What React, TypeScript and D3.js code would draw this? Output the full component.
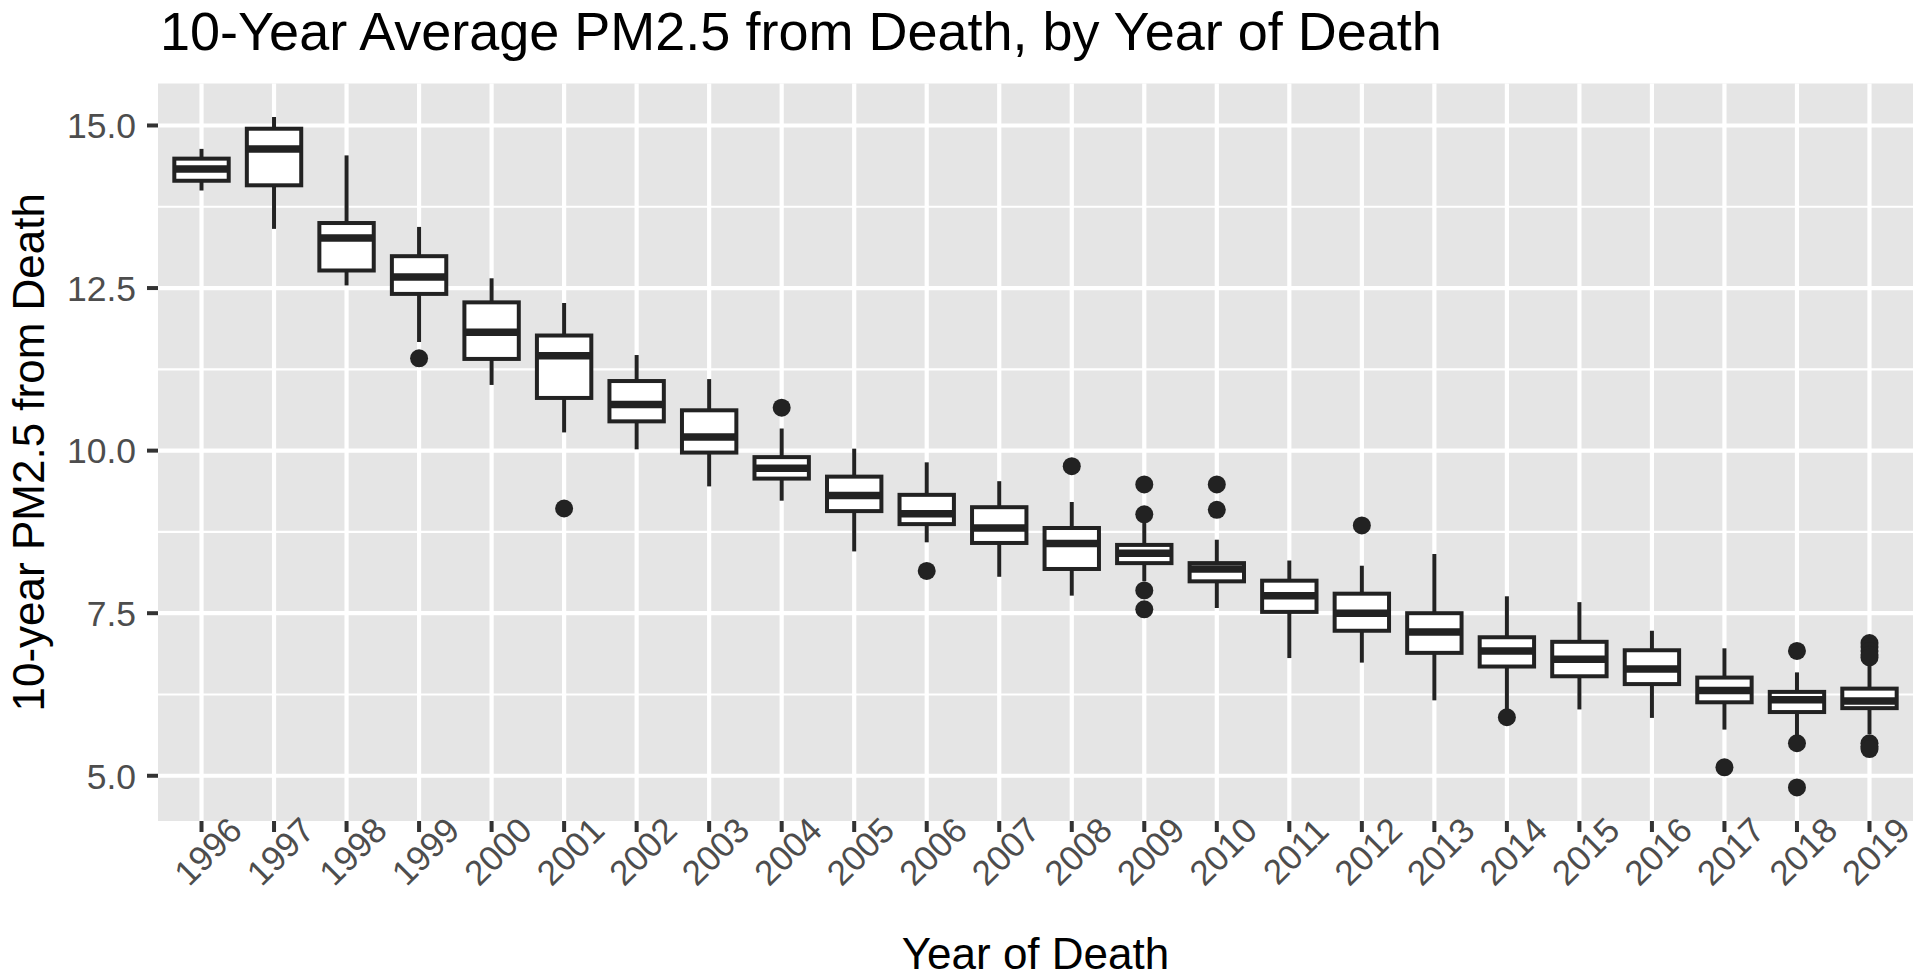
import { useMemo } from "react";
import * as d3 from "d3";

// Box statistics, one entry per year of death
const years = [1996, 1997, 1998, 1999, 2000, 2001, 2002, 2003, 2004, 2005, 2006, 2007,
    2008, 2009, 2010, 2011, 2012, 2013, 2014, 2015, 2016, 2017, 2018, 2019];
const whiskerLow = [14.0, 13.41, 12.54, 11.67, 11.01, 10.28, 10.02, 9.45, 9.23, 8.45, 8.59, 8.06,
    7.77, 7.99, 7.58, 6.81, 6.74, 6.16, 6.02, 6.02, 5.89, 5.71, 5.62, 5.64];
const q1 = [14.15, 14.08, 12.77, 12.41, 11.41, 10.81, 10.45, 9.97, 9.57, 9.07, 8.87, 8.58,
    8.18, 8.27, 7.99, 7.52, 7.23, 6.89, 6.68, 6.53, 6.41, 6.13, 5.98, 6.04];
const medians = [14.33, 14.64, 13.27, 12.67, 11.82, 11.46, 10.71, 10.21, 9.73, 9.31, 9.03, 8.81,
    8.57, 8.42, 8.18, 7.77, 7.5, 7.21, 6.92, 6.79, 6.64, 6.31, 6.17, 6.15];
const q3 = [14.49, 14.95, 13.5, 12.99, 12.28, 11.77, 11.07, 10.62, 9.9, 9.6, 9.32, 9.13,
    8.81, 8.55, 8.27, 8.0, 7.8, 7.5, 7.13, 7.06, 6.93, 6.51, 6.29, 6.34];
const whiskerHigh = [14.64, 15.13, 14.54, 13.44, 12.65, 12.27, 11.47, 11.1, 10.34, 10.03, 9.82, 9.53,
    9.21, 8.89, 8.63, 8.31, 8.23, 8.41, 7.76, 7.67, 7.23, 6.96, 6.59, 6.7];
const outliers: number[][] = [
    [], [], [], [11.42], [], [9.11], [], [], [10.66], [], [8.15], [],
    [9.76], [9.48, 9.02, 7.85, 7.56], [9.48, 9.09], [], [8.85], [], [5.9], [], [], [5.13],
    [6.92, 5.5, 4.82], [7.04, 6.98, 6.92, 6.86, 6.82, 5.5, 5.45, 5.41],
];

const yTicks = [5, 7.5, 10, 12.5, 15];
const yMinorTicks = [6.25, 8.75, 11.25, 13.75];

const title = "10-Year Average PM2.5 from Death, by Year of Death";
const xTitle = "Year of Death";
const yTitle = "10-year PM2.5 from Death";

const W = 1920;
const H = 980;
const panel = { left: 158, right: 1913, top: 83.5, bottom: 821 };
const font = "'Liberation Sans', Arial, Helvetica, sans-serif";
const ink = "#222222";

export default function App() {
    const x = useMemo(
        () =>
            d3.scalePoint<string>()
                .domain(years.map(String))
                .range([panel.left, panel.right])
                .padding(0.6),
        [],
    );

    const y = useMemo(() => {
        const all = [...whiskerLow, ...whiskerHigh, ...outliers.flat()];
        const [lo, hi] = d3.extent(all) as [number, number];
        const pad = (hi - lo) * 0.05;
        return d3.scaleLinear().domain([lo - pad, hi + pad]).range([panel.bottom, panel.top]);
    }, []);

    const boxW = x.step() * 0.75;
    const fmt = d3.format(".1f");

    return (
        <svg
            width={W}
            height={H}
            viewBox={`0 0 ${W} ${H}`}
            style={{ position: "absolute", left: 0, top: 0, display: "block", background: "#fff" }}
            fontFamily={font}
        >
            {/* panel + grid */}
            <rect
                x={panel.left}
                y={panel.top}
                width={panel.right - panel.left}
                height={panel.bottom - panel.top}
                fill="#E5E5E5"
            />
            {yMinorTicks.map((t) => (
                <line key={`mn-${t}`} x1={panel.left} x2={panel.right} y1={y(t)} y2={y(t)} stroke="#fff" strokeWidth={2.2} />
            ))}
            {yTicks.map((t) => (
                <line key={`mj-${t}`} x1={panel.left} x2={panel.right} y1={y(t)} y2={y(t)} stroke="#fff" strokeWidth={4.2} />
            ))}
            {years.map((yr) => (
                <line
                    key={`vg-${yr}`}
                    x1={x(String(yr))}
                    x2={x(String(yr))}
                    y1={panel.top}
                    y2={panel.bottom}
                    stroke="#fff"
                    strokeWidth={4.2}
                />
            ))}

            {/* boxplots */}
            {years.map((yr, i) => {
                const cx = x(String(yr)) ?? 0;
                return (
                    <g key={`b-${yr}`}>
                        {outliers[i].map((v, j) => (
                            <circle key={j} cx={cx} cy={y(v)} r={9} fill={ink} />
                        ))}
                        <line x1={cx} x2={cx} y1={y(q3[i])} y2={y(whiskerHigh[i])} stroke={ink} strokeWidth={4} />
                        <line x1={cx} x2={cx} y1={y(q1[i])} y2={y(whiskerLow[i])} stroke={ink} strokeWidth={4} />
                        <rect
                            x={cx - boxW / 2}
                            y={y(q3[i])}
                            width={boxW}
                            height={y(q1[i]) - y(q3[i])}
                            fill="#fff"
                            stroke={ink}
                            strokeWidth={4}
                        />
                        <line
                            x1={cx - boxW / 2}
                            x2={cx + boxW / 2}
                            y1={y(medians[i])}
                            y2={y(medians[i])}
                            stroke={ink}
                            strokeWidth={7.5}
                        />
                    </g>
                );
            })}

            {/* y axis */}
            {yTicks.map((t) => (
                <g key={`yt-${t}`}>
                    <line x1={panel.left - 11} x2={panel.left} y1={y(t)} y2={y(t)} stroke="#333" strokeWidth={4} />
                    <text
                        x={panel.left - 22}
                        y={y(t)}
                        dy="0.36em"
                        textAnchor="end"
                        fontSize={35.5}
                        fill="#4D4D4D"
                    >
                        {fmt(t)}
                    </text>
                </g>
            ))}

            {/* x axis */}
            {years.map((yr) => {
                const cx = x(String(yr)) ?? 0;
                return (
                    <g key={`xt-${yr}`}>
                        <line x1={cx} x2={cx} y1={panel.bottom} y2={panel.bottom + 11} stroke="#333" strokeWidth={4} />
                        <text
                            transform={`translate(${cx + 6}, ${panel.bottom + 30}) rotate(-45)`}
                            dy="0.36em"
                            textAnchor="middle"
                            fontSize={35}
                            fill="#4D4D4D"
                        >
                            {yr}
                        </text>
                    </g>
                );
            })}

            {/* titles */}
            <text x={panel.left + 2} y={50} fontSize={54} fill="#000">
                {title}
            </text>
            <text x={(panel.left + panel.right) / 2} y={969} textAnchor="middle" fontSize={44} fill="#000">
                {xTitle}
            </text>
            <text
                transform={`translate(44, ${(panel.top + panel.bottom) / 2}) rotate(-90)`}
                textAnchor="middle"
                fontSize={44}
                fill="#000"
            >
                {yTitle}
            </text>
        </svg>
    );
}
